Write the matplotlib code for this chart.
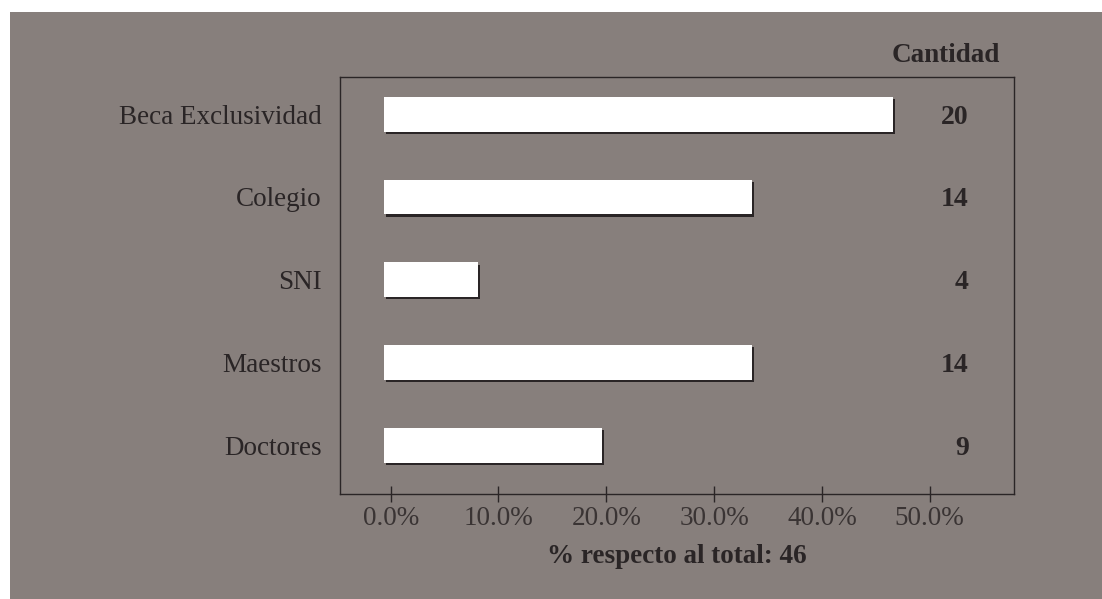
import matplotlib
matplotlib.use('Agg')
import matplotlib.pyplot as plt
import matplotlib.patheffects as pe
from matplotlib.patches import Rectangle
from matplotlib.ticker import FuncFormatter

# datos
categorias = ['Beca Exclusividad', 'Colegio', 'SNI', 'Maestros', 'Doctores']
porcentajes = [46.6, 33.5, 8.1, 33.5, 19.6]
cantidades = [20, 14, 4, 14, 9]
total = 46
ticks_x = [0, 10, 20, 30, 40, 50]

fondo = '#877f7c'
tinta = '#2a2526'
origen_barra = -0.6

plt.rcParams['font.family'] = ['Liberation Serif', 'DejaVu Serif']

fig = plt.figure(figsize=(11.02, 5.99), dpi=100)
fig.patch.set_facecolor('white')
# recuadro gris de fondo
fig.patches.append(Rectangle((10 / 1102, 0), 1, 587 / 599, transform=fig.transFigure,
                             facecolor=fondo, edgecolor='none', zorder=-10))

ax = fig.add_axes([340 / 1102, 105 / 599, 674 / 1102, 417.3 / 599])
ax.set_facecolor(fondo)

y = list(range(len(categorias)))[::-1]
anchos = [p - origen_barra for p in porcentajes]
barras = ax.barh(y, anchos, left=origen_barra, height=0.42, color='white',
                 edgecolor='none', zorder=3)
for b in barras:
    b.set_path_effects([pe.SimplePatchShadow(offset=(1.6, -1.6), shadow_rgbFace=tinta, alpha=1),
                        pe.Normal()])

ax.set_xlim(-4.7, 57.82)
ax.set_ylim(-0.588, 4.453)
ax.set_yticks(y)
ax.set_yticklabels(categorias, fontsize=19.5, color=tinta)
ax.tick_params(axis='y', length=0, pad=13)
ax.set_xticks(ticks_x)
ax.xaxis.set_major_formatter(FuncFormatter(lambda v, p: f'{v:.1f}%'))
ax.tick_params(axis='x', direction='inout', length=11.5, width=1, color=tinta,
               labelsize=19.5, labelcolor='#3a3434', pad=3)
for lado, spine in ax.spines.items():
    spine.set_color(tinta)
    spine.set_linewidth(1)

ax.set_xlabel(f'% respecto al total: {total}', fontsize=19.5, fontweight='bold',
              color=tinta, labelpad=9)

for yi, c in zip(y, cantidades):
    ax.text(0.933, yi, str(c), transform=ax.get_yaxis_transform(), ha='right',
            va='center_baseline', fontsize=20, fontweight='bold', color=tinta)
ax.text(0.979, 1.05, 'Cantidad', transform=ax.transAxes, ha='right', va='center',
        fontsize=19.5, fontweight='bold', color=tinta)

fig.savefig('out.png', dpi=100, facecolor=fig.get_facecolor())
